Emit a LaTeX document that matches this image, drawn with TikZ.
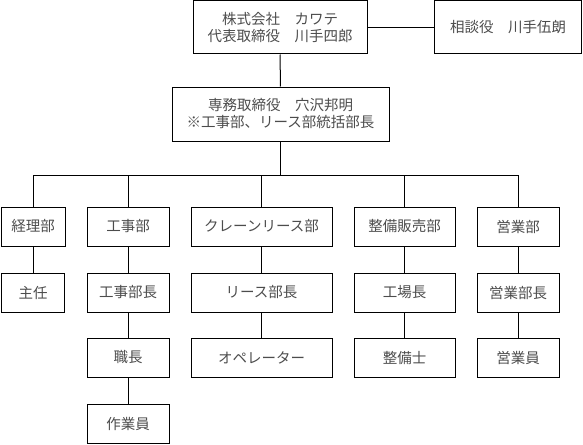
\documentclass[tikz,border=0pt]{standalone}
\usepackage{fontspec}
\usepackage{xcolor}
\usepackage{tikz}
\newfontfamily\jpfont{Noto Sans CJK JP}

\tikzset{
  orgbox/.style={draw, line width=1pt, inner sep=0pt, align=center,
    text=black!70, font=\jpfont\fontsize{14.5}{17}\selectfont,
    minimum height=39pt},
}

\begin{document}
\begin{tikzpicture}[x=1pt,y=-1pt]
\useasboundingbox (0,0) rectangle (583,444);
% top
\node[orgbox, minimum width=174pt, minimum height=53pt] (ceo) at (280,27.5) {株式会社　カワテ\\代表取締役　川手四郎};
\node[orgbox, minimum width=147pt, minimum height=53pt] (adv) at (508,27.5) {相談役　川手伍朗};
\node[orgbox, minimum width=217pt, minimum height=54pt] (exec) at (280.5,114) {専務取締役　穴沢邦明\\※工事部、リース部統括部長};
% departments
\node[orgbox, minimum width=64pt] (keiri) at (33,226.5) {経理部};
\node[orgbox, minimum width=82pt] (koji) at (128,226.5) {工事部};
\node[orgbox, minimum width=141pt] (lease) at (261.5,226.5) {クレーンリース部};
\node[orgbox, minimum width=101pt] (seibi) at (404.5,226.5) {整備販売部};
\node[orgbox, minimum width=82pt] (eigyo) at (518,226.5) {営業部};
% second row
\node[orgbox, minimum width=63pt] (shunin) at (33,292.5) {主任};
\node[orgbox, minimum width=82pt] (kojicho) at (128,292.5) {工事部長};
\node[orgbox, minimum width=141pt] (leasecho) at (261.5,292.5) {リース部長};
\node[orgbox, minimum width=101pt] (kojocho) at (404.5,292.5) {工場長};
\node[orgbox, minimum width=82pt] (eigyocho) at (518,292.5) {営業部長};
% third row
\node[orgbox, minimum width=82pt] (shokucho) at (128,357.5) {職長};
\node[orgbox, minimum width=141pt] (oper) at (261.5,357.5) {オペレーター};
\node[orgbox, minimum width=101pt] (seibishi) at (404.5,357.5) {整備士};
\node[orgbox, minimum width=82pt] (eigyoin) at (518,357.5) {営業員};
% fourth row
\node[orgbox, minimum width=82pt] (sagyoin) at (128,423.5) {作業員};

% lines
\coordinate (bus) at (0,175);
\draw[line width=1pt] (ceo) -- (adv);
\draw[line width=1pt] (ceo) -- (exec);
\draw[line width=1pt] (exec.south) -- (exec.south |- bus);
\draw[line width=1pt] (keiri.north) -- (keiri.north |- bus) -- (eigyo.north |- bus) -- (eigyo.north);
\foreach \d in {koji,lease,seibi}
  \draw[line width=1pt] (\d.north) -- (\d.north |- bus);
\foreach \a/\b in {keiri/shunin, koji/kojicho, kojicho/shokucho, shokucho/sagyoin,
    lease/leasecho, leasecho/oper, seibi/kojocho, kojocho/seibishi,
    eigyo/eigyocho, eigyocho/eigyoin}
  \draw[line width=1pt] (\a) -- (\b);
\end{tikzpicture}
\end{document}
